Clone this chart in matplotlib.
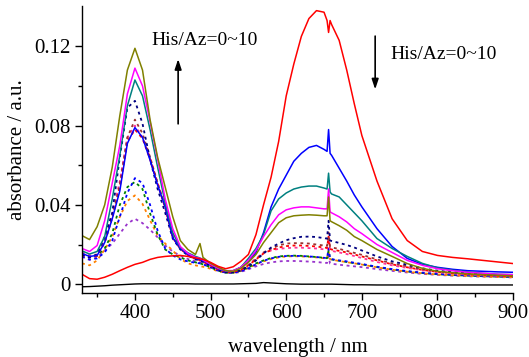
import matplotlib
matplotlib.use("Agg")
import matplotlib.pyplot as plt

plt.rcParams["font.family"] = ["Liberation Serif", "DejaVu Serif"]

# wavelength grid (nm)
wavelength = [330, 340, 350, 360, 370, 380, 390, 400, 410, 420, 430, 440, 450, 460, 470, 480,
              486, 490, 500, 510, 520, 530, 540, 550, 560, 570, 580, 590, 600, 610, 620, 630,
              640, 650, 654, 656, 658, 660, 670, 680, 690, 700, 720, 740, 760, 780, 800, 820,
              840, 860, 880, 900]

baseline = [-0.0013, -0.0012, -0.0010, -0.0008, -0.0005, -0.0003, -0.0001, 0.0001, 0.0002, 0.0002,
            0.0002, 0.0002, 0.0002, 0.0002, 0.0002, 0.0001, 0.0001, 0.0001, 0.0001, 0.0001,
            0.0001, 0.0001, 0.0002, 0.0003, 0.0004, 0.0008, 0.0006, 0.0004, 0.0002, 0.0001,
            0.0000, 0.0000, 0.0000, 0.0000, 0.0000, 0.0000, 0.0000, 0.0000, -0.0001, -0.0002,
            -0.0003, -0.0003, -0.0004, -0.0004, -0.0004, -0.0004, -0.0004, -0.0004, -0.0004,
            -0.0004, -0.0004, -0.0004]

red_solid = [0.0050, 0.0028, 0.0025, 0.0035, 0.0050, 0.0068, 0.0085, 0.0100, 0.0110, 0.0125,
             0.0135, 0.0140, 0.0143, 0.0145, 0.0140, 0.0133, 0.0128, 0.0125, 0.0110, 0.0090,
             0.0078, 0.0088, 0.0115, 0.0150, 0.0250, 0.0400, 0.0540, 0.0720, 0.0950, 0.1110,
             0.1250, 0.1340, 0.1380, 0.1372, 0.1330, 0.1270, 0.1330, 0.1310, 0.1230, 0.1080,
             0.0910, 0.0750, 0.0520, 0.0330, 0.0220, 0.0165, 0.0145, 0.0135, 0.0128, 0.0120,
             0.0112, 0.0104]

blue_solid = [0.0155, 0.0140, 0.0145, 0.0210, 0.0330, 0.0470, 0.0710, 0.0790, 0.0740, 0.0626,
              0.0500, 0.0390, 0.0235, 0.0180, 0.0150, 0.0130, 0.0125, 0.0118, 0.0100, 0.0078,
              0.0065, 0.0068, 0.0085, 0.0115, 0.0160, 0.0260, 0.0390, 0.0480, 0.0550, 0.0620,
              0.0660, 0.0690, 0.0700, 0.0680, 0.0670, 0.0780, 0.0660, 0.0650, 0.0585, 0.0520,
              0.0450, 0.0390, 0.0280, 0.0190, 0.0130, 0.0100, 0.0085, 0.0075, 0.0068, 0.0065,
              0.0062, 0.0060]

teal_solid = [0.0168, 0.0152, 0.0165, 0.0240, 0.0430, 0.0650, 0.0900, 0.1030, 0.0950, 0.0780,
              0.0590, 0.0410, 0.0260, 0.0185, 0.0158, 0.0140, 0.0132, 0.0125, 0.0105, 0.0082,
              0.0068, 0.0068, 0.0085, 0.0130, 0.0180, 0.0250, 0.0370, 0.0430, 0.0460, 0.0480,
              0.0490, 0.0495, 0.0495, 0.0485, 0.0480, 0.0560, 0.0465, 0.0455, 0.0440, 0.0400,
              0.0360, 0.0320, 0.0230, 0.0180, 0.0140, 0.0105, 0.0082, 0.0070, 0.0062, 0.0055,
              0.0050, 0.0048]

magenta_solid = [0.0180, 0.0165, 0.0195, 0.0320, 0.0510, 0.0700, 0.0960, 0.1090, 0.1000, 0.0820,
                 0.0630, 0.0430, 0.0280, 0.0190, 0.0155, 0.0135, 0.0130, 0.0122, 0.0100, 0.0080,
                 0.0068, 0.0068, 0.0085, 0.0120, 0.0170, 0.0240, 0.0300, 0.0350, 0.0375, 0.0385,
                 0.0390, 0.0390, 0.0385, 0.0380, 0.0380, 0.0480, 0.0365, 0.0360, 0.0340, 0.0314,
                 0.0280, 0.0255, 0.0200, 0.0160, 0.0120, 0.0095, 0.0078, 0.0068, 0.0060, 0.0055,
                 0.0050, 0.0048]

olive_solid = [0.0245, 0.0225, 0.0290, 0.0400, 0.0590, 0.0850, 0.1080, 0.1190, 0.1080, 0.0830,
               0.0640, 0.0490, 0.0340, 0.0220, 0.0175, 0.0150, 0.0205, 0.0135, 0.0105, 0.0085,
               0.0068, 0.0065, 0.0080, 0.0110, 0.0150, 0.0210, 0.0260, 0.0310, 0.0335, 0.0345,
               0.0348, 0.0350, 0.0348, 0.0345, 0.0345, 0.0440, 0.0320, 0.0315, 0.0295, 0.0272,
               0.0240, 0.0220, 0.0175, 0.0140, 0.0104, 0.0080, 0.0065, 0.0058, 0.0052, 0.0048,
               0.0045, 0.0042]

navy_dot = [0.0150, 0.0135, 0.0150, 0.0240, 0.0360, 0.0640, 0.0890, 0.0925, 0.0810, 0.0630,
            0.0480, 0.0360, 0.0230, 0.0175, 0.0145, 0.0125, 0.0120, 0.0112, 0.0092, 0.0072,
            0.0060, 0.0060, 0.0070, 0.0090, 0.0120, 0.0155, 0.0185, 0.0205, 0.0222, 0.0232,
            0.0239, 0.0240, 0.0238, 0.0232, 0.0230, 0.0320, 0.0220, 0.0218, 0.0208, 0.0198,
            0.0185, 0.0170, 0.0140, 0.0115, 0.0098, 0.0080, 0.0068, 0.0060, 0.0055, 0.0050,
            0.0046, 0.0044]

wine_dot = [0.0150, 0.0138, 0.0145, 0.0215, 0.0340, 0.0500, 0.0740, 0.0830, 0.0760, 0.0640,
            0.0510, 0.0390, 0.0240, 0.0180, 0.0148, 0.0128, 0.0122, 0.0115, 0.0095, 0.0075,
            0.0063, 0.0063, 0.0072, 0.0095, 0.0125, 0.0160, 0.0180, 0.0195, 0.0205, 0.0207,
            0.0207, 0.0205, 0.0200, 0.0195, 0.0193, 0.0260, 0.0188, 0.0185, 0.0178, 0.0168,
            0.0158, 0.0148, 0.0125, 0.0105, 0.0090, 0.0075, 0.0065, 0.0058, 0.0052, 0.0048,
            0.0045, 0.0042]

red_dot = [0.0148, 0.0136, 0.0142, 0.0210, 0.0335, 0.0490, 0.0720, 0.0780, 0.0735, 0.0630,
           0.0505, 0.0385, 0.0235, 0.0178, 0.0147, 0.0127, 0.0121, 0.0113, 0.0094, 0.0074,
           0.0062, 0.0062, 0.0072, 0.0095, 0.0125, 0.0155, 0.0172, 0.0185, 0.0192, 0.0195,
           0.0195, 0.0193, 0.0190, 0.0185, 0.0183, 0.0240, 0.0178, 0.0175, 0.0168, 0.0160,
           0.0150, 0.0140, 0.0120, 0.0100, 0.0085, 0.0072, 0.0062, 0.0055, 0.0050, 0.0046,
           0.0043, 0.0040]

pink_dot = [0.0160, 0.0145, 0.0150, 0.0225, 0.0350, 0.0520, 0.0740, 0.0800, 0.0740, 0.0640,
            0.0510, 0.0390, 0.0245, 0.0180, 0.0150, 0.0130, 0.0124, 0.0117, 0.0096, 0.0076,
            0.0064, 0.0064, 0.0074, 0.0098, 0.0130, 0.0158, 0.0170, 0.0178, 0.0182, 0.0184,
            0.0184, 0.0182, 0.0180, 0.0176, 0.0175, 0.0230, 0.0170, 0.0168, 0.0160, 0.0152,
            0.0142, 0.0132, 0.0112, 0.0095, 0.0082, 0.0070, 0.0060, 0.0054, 0.0049, 0.0045,
            0.0042, 0.0040]

blue_dot = [0.0140, 0.0125, 0.0130, 0.0160, 0.0220, 0.0340, 0.0460, 0.0535, 0.0510, 0.0400,
            0.0270, 0.0180, 0.0145, 0.0125, 0.0115, 0.0108, 0.0105, 0.0100, 0.0085, 0.0068,
            0.0058, 0.0058, 0.0065, 0.0080, 0.0100, 0.0118, 0.0130, 0.0138, 0.0142, 0.0143,
            0.0142, 0.0140, 0.0137, 0.0133, 0.0132, 0.0180, 0.0128, 0.0126, 0.0120, 0.0115,
            0.0108, 0.0102, 0.0088, 0.0076, 0.0066, 0.0058, 0.0052, 0.0048, 0.0045, 0.0042,
            0.0040, 0.0038]

green_dot = [0.0150, 0.0135, 0.0145, 0.0180, 0.0256, 0.0400, 0.0490, 0.0516, 0.0480, 0.0357,
             0.0250, 0.0175, 0.0150, 0.0135, 0.0120, 0.0110, 0.0105, 0.0100, 0.0085, 0.0068,
             0.0058, 0.0058, 0.0068, 0.0085, 0.0105, 0.0120, 0.0132, 0.0140, 0.0143, 0.0144,
             0.0143, 0.0140, 0.0137, 0.0133, 0.0131, 0.0170, 0.0127, 0.0125, 0.0118, 0.0112,
             0.0106, 0.0100, 0.0086, 0.0074, 0.0064, 0.0056, 0.0050, 0.0046, 0.0043, 0.0040,
             0.0038, 0.0036]

orange_dot = [0.0105, 0.0095, 0.0120, 0.0175, 0.0239, 0.0340, 0.0420, 0.0448, 0.0405, 0.0323,
              0.0245, 0.0205, 0.0170, 0.0128, 0.0105, 0.0095, 0.0090, 0.0088, 0.0078, 0.0065,
              0.0058, 0.0058, 0.0066, 0.0082, 0.0100, 0.0115, 0.0127, 0.0135, 0.0140, 0.0141,
              0.0140, 0.0138, 0.0135, 0.0131, 0.0130, 0.0165, 0.0126, 0.0124, 0.0117, 0.0111,
              0.0105, 0.0099, 0.0085, 0.0073, 0.0063, 0.0055, 0.0049, 0.0045, 0.0042, 0.0039,
              0.0037, 0.0035]

purple_dot = [0.0138, 0.0122, 0.0135, 0.0170, 0.0205, 0.0255, 0.0305, 0.0330, 0.0308, 0.0275,
              0.0236, 0.0195, 0.0165, 0.0143, 0.0127, 0.0115, 0.0110, 0.0105, 0.0092, 0.0072,
              0.0058, 0.0056, 0.0062, 0.0075, 0.0090, 0.0102, 0.0110, 0.0115, 0.0117, 0.0117,
              0.0116, 0.0114, 0.0112, 0.0108, 0.0107, 0.0140, 0.0104, 0.0103, 0.0098, 0.0094,
              0.0090, 0.0086, 0.0076, 0.0067, 0.0059, 0.0052, 0.0047, 0.0043, 0.0040, 0.0038,
              0.0036, 0.0034]

dotted_series = [
    (purple_dot, "#9933CC"),
    (orange_dot, "#FF8000"),
    (green_dot, "#008000"),
    (blue_dot, "#0000FF"),
    (pink_dot, "#FF3399"),
    (red_dot, "#FF0000"),
    (wine_dot, "#993333"),
    (navy_dot, "#000080"),
]
solid_series = [
    (blue_solid, "#0000FF"),
    (teal_solid, "#008080"),
    (magenta_solid, "#FF00FF"),
    (olive_solid, "#808000"),
    (red_solid, "#FF0000"),
]

fig = plt.figure(figsize=(5.29, 3.57), dpi=100)
ax = fig.add_axes([0.155, 0.179, 0.815, 0.804])

ax.plot(wavelength, baseline, color="black", lw=1.0)
for values, color in dotted_series:
    ax.plot(wavelength, values, color=color, lw=1.3, linestyle=(0, (1.6, 2.0)))
for values, color in solid_series:
    ax.plot(wavelength, values, color=color, lw=1.1)

ax.set_xlim(330, 900)
ax.set_ylim(-0.0045, 0.1403)
ax.set_xticks([400, 500, 600, 700, 800, 900])
ax.set_xticks([350, 450, 550, 650, 750, 850], minor=True)
ax.set_yticks([0, 0.04, 0.08, 0.12])
ax.set_yticklabels(["0", "0.04", "0.08", "0.12"])
ax.set_yticks([0.02, 0.06, 0.10], minor=True)

for side in ("top", "right"):
    ax.spines[side].set_visible(False)
for side in ("left", "bottom"):
    ax.spines[side].set_linewidth(1.0)

ax.tick_params(axis="both", which="major", direction="out", length=5, width=1.0,
               labelsize=15, pad=3)
ax.tick_params(axis="both", which="minor", direction="out", length=3, width=1.0)

ax.set_xlabel("wavelength / nm", fontsize=15)
ax.set_ylabel("absorbance / a.u.", fontsize=15)
ax.xaxis.set_label_coords(0.5, -0.155)
ax.yaxis.set_label_coords(-0.128, 0.5)

ax.text(0.162, 0.88, "His/Az=0~10", transform=ax.transAxes, fontsize=14,
        ha="left", va="center")
ax.text(0.715, 0.83, "His/Az=0~10", transform=ax.transAxes, fontsize=14,
        ha="left", va="center")

arrow_kw = dict(arrowstyle="-|>,head_length=0.6,head_width=0.2", color="black", lw=1.2)
ax.annotate("", xy=(0.223, 0.825), xytext=(0.223, 0.58),
            xycoords="axes fraction", arrowprops=arrow_kw)
ax.annotate("", xy=(0.68, 0.70), xytext=(0.68, 0.905),
            xycoords="axes fraction", arrowprops=arrow_kw)

fig.savefig("out.png", dpi=100)
